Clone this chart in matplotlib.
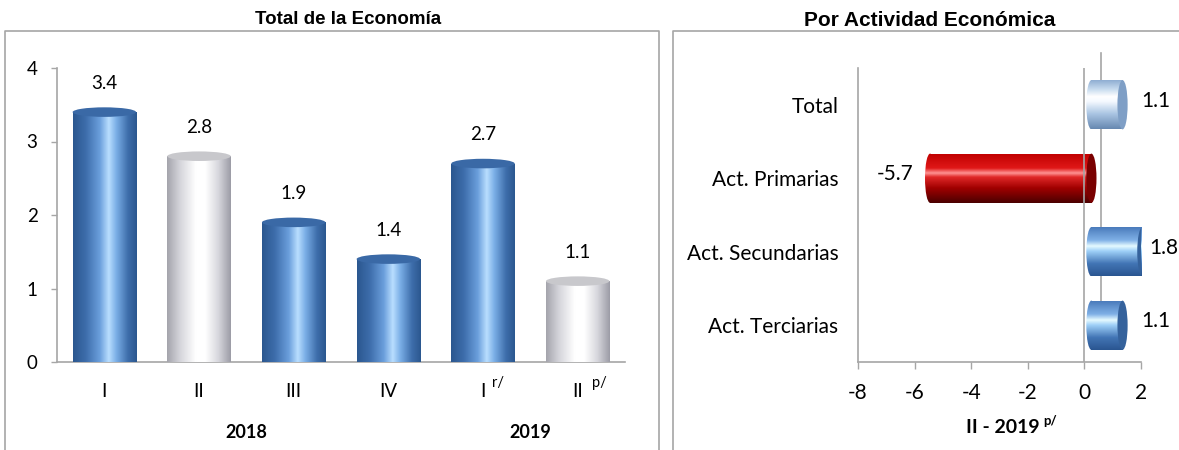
import numpy as np
import matplotlib
matplotlib.use('Agg')
import matplotlib.pyplot as plt
from matplotlib.patches import Ellipse, Rectangle
from matplotlib.colors import LinearSegmentedColormap
from matplotlib.lines import Line2D
import matplotlib.transforms as mtransforms

# ---------------- data ----------------
quarters = ['I', 'II', 'III', 'IV', 'I', 'II']
quarter_sup = ['', '', '', '', 'r/', 'p/']
years = ['2018', '2019']
year_pos = [1.5, 4.5]
total_values = [3.4, 2.8, 1.9, 1.4, 2.7, 1.1]
total_styles = ['blue', 'white', 'blue', 'blue', 'blue', 'white']

sectors = ['Total', 'Act. Primarias', 'Act. Secundarias', 'Act. Terciarias']
sector_values = [1.1, -5.7, 1.8, 1.1]
sector_styles = ['light', 'red', 'blue', 'blue']

title_left = 'Total de la Economía'
title_right = 'Por Actividad Económica'
xlabel_right = 'II - 2019'
xlabel_right_sup = 'p/'

# ---------------- style ----------------
LABEL_FONT = 'Lato'
TITLE_FONT = 'Liberation Sans'
plt.rcParams['font.family'] = [LABEL_FONT, 'DejaVu Sans']
GRAY = '#a6a6a6'

def cmap(name, stops):
    return LinearSegmentedColormap.from_list(name, stops)

vcmaps = {
    'blue': cmap('vb', [(0, '#2b578f'), (0.2, '#3d6dab'), (0.42, '#6b9fdc'),
                        (0.56, '#b9deff'), (0.68, '#7aaee6'), (0.86, '#3e6eab'), (1, '#2b578f')]),
    'white': cmap('vw', [(0, '#a4a4ac'), (0.2, '#d4d4da'), (0.45, '#ffffff'),
                         (0.6, '#ffffff'), (0.8, '#d8d8de'), (1, '#9c9ca6')]),
}
vcaps = {'blue': '#3a69a6', 'white': '#c8c8cc'}

hcmaps = {  # from bottom to top
    'blue': cmap('hb', [(0, '#2a5590'), (0.25, '#4275b5'), (0.5, '#9fd0f8'),
                        (0.6, '#e6faff'), (0.72, '#7fb0e6'), (1, '#4677b8')]),
    'light': cmap('hl', [(0, '#6688b0'), (0.3, '#a9c4e2'), (0.55, '#f4f9ff'),
                         (0.65, '#ffffff'), (0.8, '#c6daee'), (1, '#89a9cf')]),
    'red': cmap('hr', [(0, '#4a0000'), (0.3, '#a00000'), (0.52, '#e02828'),
                       (0.6, '#ff9494'), (0.7, '#e01818'), (1, '#bf0000')]),
}
hcaps = {'blue': '#35629c', 'light': '#7f9fc6', 'red': '#7a0000'}

W, H = 1179, 450
fig = plt.figure(figsize=(W / 100, H / 100), dpi=100)
fig.patch.set_facecolor('white')

def fx(px):
    return px / W

def fy(py):
    return 1 - py / H

# panel frames
for xs, ys in [([5, 5, 659, 659], [H + 5, 31, 31, H + 5]),
               ([673, 673, W + 5], [H + 5, 31, 31])]:
    fig.add_artist(Line2D([fx(v) for v in xs], [fy(v) for v in ys],
                          transform=fig.transFigure, color=GRAY, lw=1.2))

fig.text(fx(348), fy(20), title_left, ha='center', va='center',
         fontsize=13.5, fontweight='bold', family=TITLE_FONT)
fig.text(fx(930), fy(20), title_right, ha='center', va='center',
         fontsize=15, fontweight='bold', family=TITLE_FONT)

# ---------------- left chart ----------------
axL = fig.add_axes([fx(57), fy(362), fx(625) - fx(57), fy(68) - fy(362)])
n = len(total_values)
xpos = np.arange(n)
bw = 0.67
cap_h = 0.13
grad_x = np.linspace(0, 1, 256).reshape(1, -1)
for x, v, st in zip(xpos, total_values, total_styles):
    cm = vcmaps[st]
    rect = Rectangle((x - bw / 2, 0), bw, v, facecolor='none', edgecolor='none')
    axL.add_patch(rect)
    im = axL.imshow(grad_x, extent=[x - bw / 2, x + bw / 2, 0, v], aspect='auto',
                    cmap=cm, origin='lower', zorder=2, interpolation='bilinear')
    im.set_clip_path(rect)
    bot = Ellipse((x, 0), bw, cap_h, facecolor='none', edgecolor='none')
    axL.add_patch(bot)
    im2 = axL.imshow(grad_x, extent=[x - bw / 2, x + bw / 2, -cap_h, 0], aspect='auto',
                     cmap=cm, origin='lower', zorder=2, interpolation='bilinear')
    im2.set_clip_path(bot)
    axL.add_patch(Ellipse((x, v), bw, cap_h, facecolor=vcaps[st], edgecolor='none', zorder=3))
    axL.annotate(f'{v:.1f}', (x, v), xytext=(0, 29), textcoords='offset pixels',
                 ha='center', va='center', fontsize=13.5)

axL.set_xlim(-0.5, n - 0.5)
axL.set_ylim(0, 4)
axL.set_yticks([0, 1, 2, 3, 4])
axL.set_xticks(xpos)
axL.set_xticklabels(quarters)
axL.tick_params(axis='x', length=0, pad=15, labelsize=13.5)
axL.tick_params(axis='y', length=4, width=1, color=GRAY, pad=10, labelsize=13.5, direction='out')
for s in ['top', 'right']:
    axL.spines[s].set_visible(False)
for s in ['left', 'bottom']:
    axL.spines[s].set_color(GRAY)
    axL.spines[s].set_linewidth(1.2)
axL.spines['bottom'].set_zorder(1)
for x, sup in zip(xpos, quarter_sup):
    if sup:
        lab = quarters[x]
        axL.annotate(sup, (x, 0), xytext=(4 + 5 * len(lab), -21), textcoords='offset pixels',
                     ha='left', va='center', fontsize=10.5, annotation_clip=False)
ylab_trans = mtransforms.blended_transform_factory(axL.transData, axL.transAxes)
for yp, yl in zip(year_pos, years):
    axL.text(yp, -0.241, yl, transform=ylab_trans, ha='center', va='center',
             fontsize=13, fontweight='bold')

# ---------------- right chart ----------------
axR = fig.add_axes([fx(858), fy(362), fx(1141) - fx(858), fy(68) - fy(362)])
m = len(sector_values)
ypos = np.arange(m)[::-1]
bh = 0.67
cap_w = 0.36
grad_y = np.linspace(0, 1, 256).reshape(-1, 1)
shift = axR.transData + mtransforms.ScaledTranslation(7 / 100, 0, fig.dpi_scale_trans)
value_texts = []
for y, v, st in zip(ypos, sector_values, sector_styles):
    cm = hcmaps[st]
    x0, x1 = min(0, v), max(0, v)
    rect = Rectangle((x0, y - bh / 2), x1 - x0, bh, facecolor='none', edgecolor='none',
                     transform=shift)
    axR.add_patch(rect)
    im = axR.imshow(grad_y, extent=[x0, x1, y - bh / 2, y + bh / 2], aspect='auto',
                    cmap=cm, origin='lower', zorder=2, interpolation='bilinear')
    im.set_transform(shift)
    im.set_clip_path(rect)
    le = Ellipse((x0, y), cap_w, bh, facecolor='none', edgecolor='none', transform=shift)
    axR.add_patch(le)
    im2 = axR.imshow(grad_y, extent=[x0 - cap_w / 2, x0, y - bh / 2, y + bh / 2], aspect='auto',
                     cmap=cm, origin='lower', zorder=2, interpolation='bilinear')
    im2.set_transform(shift)
    im2.set_clip_path(le)
    axR.add_patch(Ellipse((x1, y), cap_w, bh, facecolor=hcaps[st], edgecolor='none',
                          zorder=3, transform=shift))
    if v >= 0:
        t = axR.annotate(f'{v:.1f}', (v, y), xytext=(26, 4), textcoords='offset pixels',
                         ha='left', va='center', fontsize=15, annotation_clip=False)
    else:
        t = axR.annotate(f'{v:.1f}', (v, y), xytext=(-10, 4), textcoords='offset pixels',
                         ha='right', va='center', fontsize=15, annotation_clip=False)
    value_texts.append(t)

axR.set_xlim(-8, 2)
axR.set_ylim(-0.5, m - 0.5)
# zero wall lines
axR.axvline(0, color=GRAY, lw=1.2, zorder=4)
back = axR.transData + mtransforms.ScaledTranslation(17 / 100, 15 / 100, fig.dpi_scale_trans)
axR.add_line(Line2D([0, 0], [-0.5, m - 0.5], transform=back, color=GRAY, lw=1.2,
                    zorder=1, clip_on=False))
axR.set_xticks([-8, -6, -4, -2, 0, 2])
axR.set_xticklabels(['-8', '-6', '-4', '-2', '0', '2'])
axR.set_yticks(ypos)
axR.set_yticklabels(sectors)
axR.tick_params(axis='y', length=0, pad=14, labelsize=15)
axR.tick_params(axis='x', length=5, width=1, color=GRAY, pad=10, labelsize=15, direction='out')
for s in ['top', 'right']:
    axR.spines[s].set_visible(False)
for s in ['left', 'bottom']:
    axR.spines[s].set_color(GRAY)
    axR.spines[s].set_linewidth(1.2)
axR.text(0.643, -0.224, xlabel_right, transform=axR.transAxes, ha='right', va='center',
         fontsize=14, fontweight='bold')
axR.text(0.655, -0.2, xlabel_right_sup, transform=axR.transAxes, ha='left', va='center',
         fontsize=9.5, fontweight='bold')

# keep value labels inside the figure
fig.canvas.draw()
renderer = fig.canvas.get_renderer()
for t in value_texts:
    bb = t.get_window_extent(renderer)
    if bb.x1 > W - 1:
        dx, dy = t.xyann
        t.xyann = (dx - (bb.x1 - (W - 1)), dy)

fig.savefig('out.png', dpi=100, facecolor='white')
